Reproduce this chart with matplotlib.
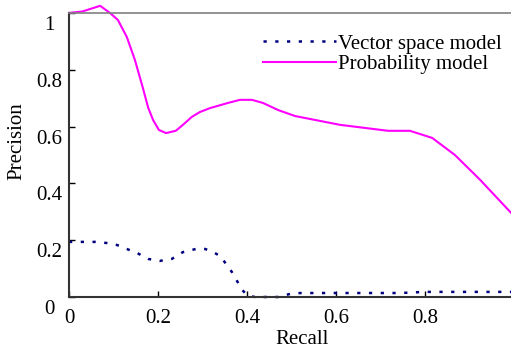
import numpy as np
import matplotlib.pyplot as plt
from matplotlib.transforms import ScaledTranslation

plt.rcParams["font.family"] = ["Liberation Serif", "DejaVu Serif"]
plt.rcParams["font.size"] = 15

# probability model curve
prob_recall = [0.0, 0.03, 0.07, 0.092, 0.11, 0.13, 0.148, 0.166, 0.178, 0.189,
               0.202, 0.218, 0.24, 0.256, 0.276, 0.294, 0.317, 0.357, 0.384,
               0.411, 0.436, 0.47, 0.508, 0.609, 0.717, 0.766, 0.816, 0.867,
               0.924, 1.0]
prob_precision = [1.0, 1.005, 1.025, 1.0, 0.975, 0.915, 0.835, 0.736, 0.666,
                  0.623, 0.588, 0.577, 0.585, 0.606, 0.634, 0.651, 0.665,
                  0.683, 0.694, 0.694, 0.683, 0.658, 0.637, 0.606, 0.585,
                  0.585, 0.56, 0.5, 0.412, 0.285]

# vector space model curve
vec_recall = [0.0, 0.058, 0.085, 0.108, 0.13, 0.153, 0.178, 0.204, 0.231,
              0.256, 0.285, 0.306, 0.324, 0.34, 0.366, 0.389, 0.402, 0.418,
              0.44, 0.47, 0.497, 0.52, 0.744, 0.8, 1.0]
vec_precision = [0.194, 0.194, 0.19, 0.183, 0.169, 0.155, 0.134, 0.127, 0.134,
                 0.158, 0.169, 0.169, 0.158, 0.144, 0.088, 0.025, 0.004, 0.0,
                 0.0, 0.0, 0.011, 0.014, 0.014, 0.018, 0.018]

xticks = [0, 0.2, 0.4, 0.6, 0.8, 1]
xtick_labels = ["0", "0.2", "0.4", "0.6", "0.8", "1"]
yticks = [0, 0.2, 0.4, 0.6, 0.8, 1]
ytick_labels = ["0", "0.2", "0.4", "0.6", "0.8", "1"]

fig = plt.figure(figsize=(5.11, 3.49), dpi=100)
ax = fig.add_axes([0.135, 0.149, 0.871, 0.814])

ax.plot(vec_recall, vec_precision, color="#000080", lw=1.8,
        dashes=(1.3, 3.4), label="Vector space model", clip_on=False)
ax.plot(prob_recall, prob_precision, color="#ff00ff", lw=1.5,
        label="Probability model", clip_on=False)

ax.set_xlim(0, 1)
ax.set_ylim(0, 1)
ax.set_xticks(xticks)
ax.set_xticklabels(xtick_labels)
ax.set_yticks(yticks)
ax.set_yticklabels(ytick_labels)
ax.tick_params(direction="in", length=4, width=1)
ax.tick_params(axis="x", pad=9)
ax.tick_params(axis="y", pad=14)
for lab in ax.get_yticklabels():
    lab.set_horizontalalignment("center")
    lab.set_transform(lab.get_transform() +
                      ScaledTranslation(0, -0.10, fig.dpi_scale_trans))

for s in ["left", "bottom"]:
    ax.spines[s].set_color("#333333")
    ax.spines[s].set_linewidth(1.5)
ax.spines["top"].set_color("#808080")
ax.spines["top"].set_linewidth(1.2)
ax.spines["right"].set_visible(False)

ax.set_xlabel("Recall")
ax.xaxis.set_label_coords(0.524, -0.115)
ax.set_ylabel("Precision")
ax.yaxis.set_label_coords(-0.095, 0.55)

ax.legend(loc="upper right", bbox_to_anchor=(1.0, 0.97), frameon=False,
          handlelength=3.5, handletextpad=0.1, labelspacing=0.05,
          borderaxespad=0.2)

fig.savefig("out.png", dpi=100)
